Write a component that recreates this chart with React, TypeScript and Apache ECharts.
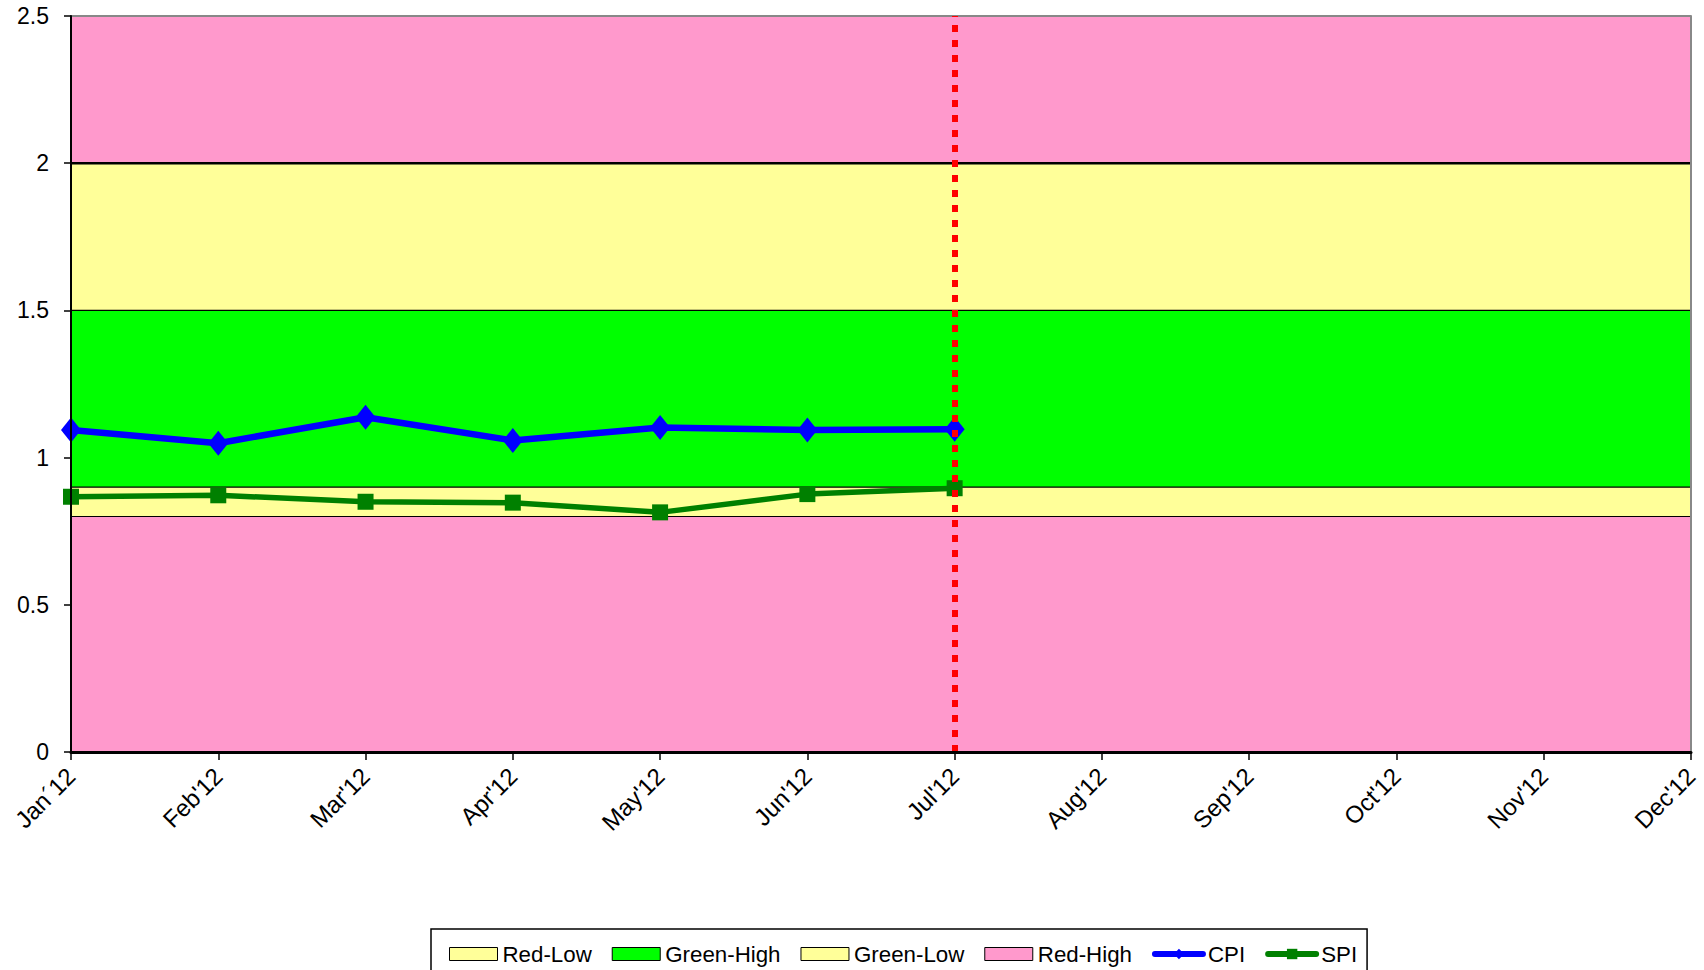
import React, { useEffect, useRef } from 'react';
import * as echarts from 'echarts';

const months = ["Jan´12", "Feb'12", "Mar'12", "Apr'12", "May'12", "Jun'12", "Jul'12", "Aug'12", "Sep'12", "Oct'12", "Nov'12", "Dec'12"];
const cpi = [1.094, 1.049, 1.137, 1.058, 1.102, 1.094, 1.096];
const spi = [0.867, 0.872, 0.85, 0.847, 0.814, 0.876, 0.896];
const statusMonth = "Jul'12";

// upper level of each band (areas drawn from 0, later ones in front)
const redHighTop = 2.5;
const greenLowTop = 2.0;
const greenHighTop = 1.5;
const redLowTop = 0.9;
const redFloorTop = 0.8;

const yMin = 0;
const yMax = 2.5;
const yInterval = 0.5;

const PINK = '#FF99CC';
const YELLOW = '#FFFF99';
const GREEN = '#00FF00';
const FONT = '"Liberation Sans", Arial, sans-serif';

function band(name: string, top: number, color: string, lineColor: string, lineWidth: number) {
  return {
    name,
    type: 'line',
    data: months.map(() => top),
    symbol: 'none',
    showSymbol: false,
    clip: false,
    silent: true,
    itemStyle: { color },
    lineStyle: { color: lineColor, width: lineWidth },
    areaStyle: { color, opacity: 1 },
    z: 1,
  };
}

export default function App() {
  const ref = useRef<HTMLDivElement>(null);
  useEffect(() => {
    if (!ref.current) return;
    const chart = echarts.init(ref.current, undefined, { renderer: 'svg' });
    chart.setOption({
      animation: false,
      backgroundColor: '#FFFFFF',
      textStyle: { fontFamily: FONT, color: '#000' },
      grid: { left: 71, right: 13, top: 16, bottom: 218, containLabel: false },
      legend: {
        left: 431,
        top: 929,
        orient: 'horizontal',
        padding: [14, 10, 30, 18],
        borderColor: '#000',
        borderWidth: 1.5,
        itemGap: 20,
        itemWidth: 48,
        itemHeight: 13,
        textStyle: { fontFamily: FONT, fontSize: 22.3, color: '#000' },
        data: [
          { name: 'Red-Low', icon: 'rect', itemStyle: { color: YELLOW, borderColor: '#000', borderWidth: 1 } },
          { name: 'Green-High', icon: 'rect', itemStyle: { color: GREEN, borderColor: '#000', borderWidth: 1 } },
          { name: 'Green-Low', icon: 'rect', itemStyle: { color: YELLOW, borderColor: '#000', borderWidth: 1 } },
          { name: 'Red-High', icon: 'rect', itemStyle: { color: PINK, borderColor: '#000', borderWidth: 1 } },
          { name: 'CPI', lineStyle: { width: 6, cap: 'round', color: '#0000FF' } },
          { name: 'SPI', lineStyle: { width: 6, cap: 'round', color: '#008000' } },
        ],
      },
      xAxis: {
        type: 'category',
        data: months,
        boundaryGap: false,
        z: 10,
        axisLine: { show: true, lineStyle: { color: '#000', width: 3 } },
        axisTick: { show: true, length: 8, alignWithLabel: true, lineStyle: { color: '#000', width: 1.5 } },
        axisLabel: { rotate: 45, fontSize: 24, color: '#000', fontFamily: FONT, margin: 20, interval: 0 },
        splitLine: { show: false },
      },
      yAxis: [
        {
          type: 'value',
          min: yMin,
          max: yMax,
          interval: yInterval,
          z: 10,
          axisLine: { show: true, lineStyle: { color: '#000', width: 2 } },
          axisTick: { show: true, length: 7, lineStyle: { color: '#000', width: 1.5 } },
          axisLabel: { fontSize: 23, color: '#000', fontFamily: FONT, margin: 22 },
          splitLine: { show: false },
        },
        {
          type: 'value',
          min: yMin,
          max: yMax,
          interval: yInterval,
          position: 'right',
          z: 10,
          axisLine: { show: true, lineStyle: { color: '#888888', width: 2 } },
          axisTick: { show: false },
          axisLabel: { show: false },
          splitLine: { show: false },
        },
      ],
      series: [
        band('Red-High', redHighTop, PINK, '#888888', 2),
        band('Green-Low', greenLowTop, YELLOW, '#000', 2.5),
        band('Green-High', greenHighTop, GREEN, '#000', 1.2),
        band('Red-Low', redLowTop, YELLOW, '#000', 1.2),
        band('Red-Floor', redFloorTop, PINK, '#000', 1.2),
        {
          name: 'CPI',
          type: 'line',
          data: cpi,
          symbol: 'diamond',
          symbolSize: [20, 25],
          itemStyle: { color: '#0000FF' },
          lineStyle: { color: '#0000FF', width: 6.5 },
          z: 3,
        },
        {
          name: 'SPI',
          type: 'line',
          data: spi,
          symbol: 'rect',
          symbolSize: 16,
          itemStyle: { color: '#008000' },
          lineStyle: { color: '#008000', width: 5.5 },
          z: 3,
        },
        {
          name: 'Status',
          type: 'line',
          data: [],
          z: 8,
          markLine: {
            silent: true,
            symbol: ['none', 'none'],
            label: { show: false },
            lineStyle: { color: '#FF0000', width: 6, type: [7, 8] },
            data: [{ xAxis: statusMonth }],
          },
        },
      ],
    });
    return () => chart.dispose();
  }, []);
  return <div ref={ref} style={{ position: 'fixed', left: 0, top: 0, width: 1704, height: 970 }} />;
}
